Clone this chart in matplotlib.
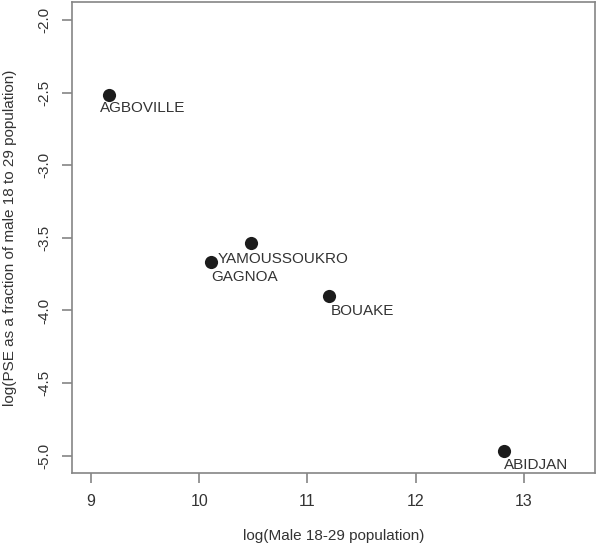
import matplotlib
matplotlib.use("Agg")
import matplotlib.pyplot as plt

# data
cities = ["AGBOVILLE", "YAMOUSSOUKRO", "GAGNOA", "BOUAKE", "ABIDJAN"]
log_male = [9.17, 10.48, 10.11, 11.20, 12.815]
log_pse = [-2.52, -3.535, -3.665, -3.90, -4.966]
xticks = [9, 10, 11, 12, 13]
yticks = [-2.0, -2.5, -3.0, -3.5, -4.0, -4.5, -5.0]

# label offsets in pixels (dx, dy) relative to each point
label_off = {
    "AGBOVILLE": (-9, -13),
    "YAMOUSSOUKRO": (-33, -16),
    "GAGNOA": (0, -15),
    "BOUAKE": (2, -15),
    "ABIDJAN": (0, -14),
}

plt.rcParams["font.family"] = ["Liberation Sans", "DejaVu Sans"]
grey = "#858585"
txt = "#333333"

fig = plt.figure(figsize=(6.0, 5.48), dpi=100)
ax = fig.add_axes([0.12, 0.137, 0.872, 0.8595])

ax.scatter(log_male, log_pse, s=90, color="#1c1c1c", zorder=3, linewidths=0)

for name, x, y in zip(cities, log_male, log_pse):
    dx, dy = label_off[name]
    ax.annotate(name, (x, y), xytext=(dx * 0.72, dy * 0.72),
                textcoords="offset points", ha="left", va="center",
                fontsize=11, color=txt)

ax.set_xlim(8.825, 13.66)
ax.set_ylim(-5.118, -1.876)
ax.set_xticks(xticks)
ax.set_yticks(yticks)
ax.set_xticklabels([str(t) for t in xticks], fontsize=11.5)
ax.set_yticklabels([f"{t:.1f}" for t in yticks], rotation=90, va="center",
                   fontsize=11)

for sp in ax.spines.values():
    sp.set_color(grey)
    sp.set_linewidth(1.2)
ax.tick_params(axis="both", direction="out", length=7, width=1.2,
               color=grey, labelcolor=txt)
ax.tick_params(axis="x", pad=8)
ax.tick_params(axis="y", pad=8)

ax.set_xlabel("log(Male 18-29 population)", fontsize=11, color=txt)
ax.set_ylabel("log(PSE as a fraction of male 18 to 29 population)",
              fontsize=11, color=txt)
ax.xaxis.set_label_coords(0.5, -0.118)
ax.yaxis.set_label_coords(-0.105, 0.5)

fig.savefig("out.png", dpi=100)
